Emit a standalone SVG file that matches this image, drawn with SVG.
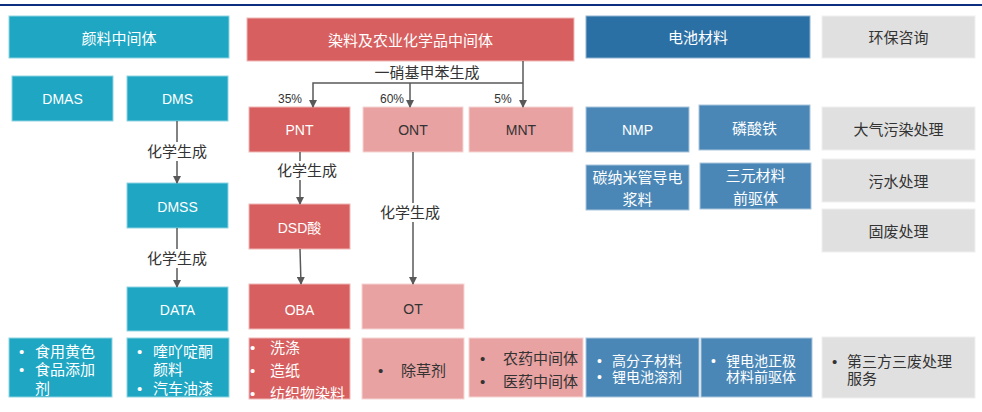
<svg xmlns="http://www.w3.org/2000/svg" width="982" height="412" viewBox="0 0 982 412">
<defs>
<marker id="arr" markerWidth="8" markerHeight="8" refX="7" refY="4" orient="auto" markerUnits="userSpaceOnUse">
<path d="M0,0 L8,4 L0,8 Z" fill="#595959"/>
</marker>
<style>
text{font-family:"Liberation Sans","Noto Sans CJK SC",sans-serif;}
.t{text-anchor:middle;dominant-baseline:central;}
.w{fill:#ffffff;}
.d{fill:#333333;}
.f15{font-size:15px;}
.f13{font-size:14px;}
.f12{font-size:12px;}
.teal{fill:#1ea6c2;stroke:#8fd3e2;stroke-width:1;}
.red{fill:#d75f5f;stroke:#f0b8b8;stroke-width:1;}
.pink{fill:#e8a2a2;stroke:#f6d4d4;stroke-width:1;}
.bhead{fill:#2b70a5;stroke:#8fb3d2;stroke-width:1;}
.blue{fill:#4a87b6;stroke:#a9c5dd;stroke-width:1;}
.gray{fill:#e0e0e0;stroke:#f0f0f0;stroke-width:1;}
.ln{stroke:#595959;stroke-width:1.5;fill:none;}
</style>
</defs>
<rect x="0" y="0" width="982" height="412" fill="#ffffff"/>
<rect x="0" y="4" width="982" height="2" fill="#0b2e80"/>

<g id="h-pigment"><rect class="teal" x="9" y="16" width="220" height="42"/><text class="t w f15" x="119" y="38">颜料中间体</text></g>
<g id="h-dye"><rect class="red" x="247" y="18" width="327" height="43"/><text class="t w f15" x="410.5" y="40">染料及农业化学品中间体</text></g>
<g id="h-battery"><rect class="bhead" x="586" y="16" width="224" height="42"/><text class="t w f15" x="698" y="37">电池材料</text></g>
<g id="h-env"><rect class="gray" x="822" y="16" width="153" height="42"/><text class="t d f15" x="898.5" y="37">环保咨询</text></g>

<g id="n-dmas"><rect class="teal" x="12" y="76" width="101" height="45"/><text class="t w f13" x="62.5" y="99">DMAS</text></g>
<g id="n-dms"><rect class="teal" x="127" y="76" width="101" height="45"/><text class="t w f13" x="177.5" y="99">DMS</text></g>
<g id="n-dmss"><rect class="teal" x="127" y="183" width="101" height="45"/><text class="t w f13" x="177.5" y="207">DMSS</text></g>
<g id="n-data"><rect class="teal" x="127" y="287" width="101" height="44"/><text class="t w f13" x="177.5" y="310">DATA</text></g>

<g id="n-pnt"><rect class="red" x="249" y="107" width="101" height="45"/><text class="t w f13" x="299.5" y="130">PNT</text></g>
<g id="n-ont"><rect class="pink" x="363" y="107" width="100" height="45"/><text class="t d f13" x="413" y="130">ONT</text></g>
<g id="n-mnt"><rect class="pink" x="469" y="107" width="104" height="45"/><text class="t d f13" x="521" y="130">MNT</text></g>
<g id="n-dsd"><rect class="red" x="249" y="204" width="101" height="45"/><text class="t w f13" x="299.5" y="228">DSD酸</text></g>
<g id="n-oba"><rect class="red" x="249" y="284" width="101" height="45"/><text class="t w f13" x="299.5" y="310">OBA</text></g>
<g id="n-ot"><rect class="pink" x="362" y="284" width="102" height="45"/><text class="t d f13" x="413" y="309">OT</text></g>

<g id="n-nmp"><rect class="blue" x="586" y="107" width="103" height="45"/><text class="t w f13" x="637.5" y="130">NMP</text></g>
<g id="n-lfp"><rect class="blue" x="699" y="105" width="111" height="45"/><text class="t w f15" x="754.5" y="128">磷酸铁</text></g>
<g id="n-cnt"><rect class="blue" x="586" y="165" width="103" height="45"/><text class="t w f15" x="637.5" y="177">碳纳米管导电</text><text class="t w f15" x="637.5" y="199">浆料</text></g>
<g id="n-ncm"><rect class="blue" x="700" y="163" width="111" height="46"/><text class="t w f15" x="755.5" y="175">三元材料</text><text class="t w f15" x="755.5" y="198">前驱体</text></g>

<g id="n-air"><rect class="gray" x="822" y="107" width="153" height="43"/><text class="t d f15" x="898.5" y="129">大气污染处理</text></g>
<g id="n-water"><rect class="gray" x="822" y="159" width="153" height="43"/><text class="t d f15" x="898.5" y="181">污水处理</text></g>
<g id="n-solid"><rect class="gray" x="822" y="209" width="153" height="43"/><text class="t d f15" x="898.5" y="231">固废处理</text></g>

<g id="u-pigment1"><rect class="teal" x="9" y="338" width="103" height="59"/>
<g class="w f15"><text x="19" y="351" dominant-baseline="central">•</text><text x="35" y="351" dominant-baseline="central">食用黄色</text>
<text x="19" y="369.5" dominant-baseline="central">•</text><text x="35" y="369.5" dominant-baseline="central">食品添加</text>
<text x="35" y="388" dominant-baseline="central">剂</text></g></g>
<g id="u-pigment2"><rect class="teal" x="127" y="338" width="102" height="59"/>
<g class="w f15"><text x="137" y="351" dominant-baseline="central">•</text><text x="153" y="351" dominant-baseline="central">喹吖啶酮</text>
<text x="153" y="369.5" dominant-baseline="central">颜料</text>
<text x="137" y="388" dominant-baseline="central">•</text><text x="153" y="388" dominant-baseline="central">汽车油漆</text></g></g>
<g id="u-dye"><rect class="red" x="249" y="338" width="101" height="61"/>
<g class="w f15"><text x="250" y="347" dominant-baseline="central">•</text><text x="270" y="347" dominant-baseline="central">洗涤</text>
<text x="250" y="370" dominant-baseline="central">•</text><text x="270" y="370" dominant-baseline="central">造纸</text>
<text x="250" y="393" dominant-baseline="central">•</text><text x="270" y="393" dominant-baseline="central">纺织物染料</text></g></g>
<g id="u-herb"><rect class="pink" x="362" y="338" width="102" height="61"/>
<g class="d f15"><text x="378" y="370" dominant-baseline="central">•</text><text x="401" y="370" dominant-baseline="central">除草剂</text></g></g>
<g id="u-agro"><rect class="pink" x="469" y="338" width="114" height="59"/>
<g class="d f15"><text x="480" y="358" dominant-baseline="central">•</text><text x="503" y="358" dominant-baseline="central">农药中间体</text>
<text x="480" y="381" dominant-baseline="central">•</text><text x="503" y="381" dominant-baseline="central">医药中间体</text></g></g>
<g id="u-poly"><rect class="blue" x="586" y="338" width="113" height="59"/>
<g class="w" font-size="14"><text x="597" y="361" dominant-baseline="central">•</text><text x="612" y="361" dominant-baseline="central">高分子材料</text>
<text x="597" y="377" dominant-baseline="central">•</text><text x="612" y="377" dominant-baseline="central">锂电池溶剂</text></g></g>
<g id="u-cathode"><rect class="blue" x="701" y="338" width="111" height="59"/>
<g class="w" font-size="14"><text x="711" y="361" dominant-baseline="central">•</text><text x="726" y="361" dominant-baseline="central">锂电池正极</text>
<text x="726" y="377" dominant-baseline="central">材料前驱体</text></g></g>
<g id="u-waste"><rect class="gray" x="822" y="337" width="153" height="61"/>
<g class="d f15"><text x="832" y="361" dominant-baseline="central">•</text><text x="847" y="361" dominant-baseline="central">第三方三废处理</text>
<text x="847" y="378" dominant-baseline="central">服务</text></g></g>

<g id="connectors">
<path class="ln" d="M523,61 V107" marker-end="url(#arr)"/>
<path class="ln" d="M523,83 H313 V107" marker-end="url(#arr)"/>
<path class="ln" d="M410,83 V107" marker-end="url(#arr)"/>
<path class="ln" d="M177,121 V183" marker-end="url(#arr)"/>
<path class="ln" d="M177,228 V287" marker-end="url(#arr)"/>
<path class="ln" d="M300,152 V204" marker-end="url(#arr)"/>
<path class="ln" d="M300,249 L301,284" marker-end="url(#arr)"/>
<path class="ln" d="M413,152 V284" marker-end="url(#arr)"/>
<text class="t d f15" x="427" y="72">一硝基甲苯生成</text>
<text class="t d f12" x="290" y="99">35%</text>
<text class="t d f12" x="392" y="99">60%</text>
<text class="t d f12" x="503" y="99">5%</text>
<rect x="146" y="142" width="62" height="19" fill="#ffffff"/>
<text class="t d f15" x="177" y="151">化学生成</text>
<rect x="146" y="249" width="62" height="19" fill="#ffffff"/>
<text class="t d f15" x="177" y="258">化学生成</text>
<rect x="276" y="161" width="62" height="19" fill="#ffffff"/>
<text class="t d f15" x="307" y="170">化学生成</text>
<rect x="379" y="203" width="62" height="19" fill="#ffffff"/>
<text class="t d f15" x="410" y="212">化学生成</text>
</g>
</svg>
